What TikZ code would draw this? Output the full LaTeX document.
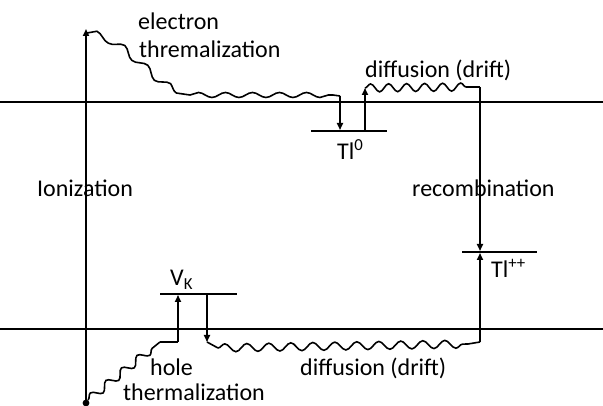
\documentclass[tikz,border=0pt]{standalone}
\usepackage{fontspec}
\setmainfont{Carlito}
\usetikzlibrary{arrows.meta,decorations.pathmorphing}
\begin{document}
\begin{tikzpicture}[x=1pt,y=-1pt,
  band/.style={line width=1.8pt},
  levelline/.style={line width=1.8pt},
  trans/.style={line width=1.6pt,-{Triangle[length=7pt,width=6pt]}},
  plain/.style={line width=1.6pt},
  wavy/.style={line width=1.6pt,decorate,decoration={snake,amplitude=#1}},
  lbl/.style={font=\fontsize{24}{28}\selectfont,inner sep=0pt,anchor=base west}]
\useasboundingbox (0,0) rectangle (603,406);
% band edges
\coordinate (cbL) at (0,102); \coordinate (cbR) at (603,102);
\coordinate (vbL) at (0,329); \coordinate (vbR) at (603,329);
\draw[band] (cbL) -- (cbR);
\draw[band] (vbL) -- (vbR);
% levels
\coordinate (t0L) at (311,131); \coordinate (t0R) at (387,131);
\coordinate (vkL) at (160,294); \coordinate (vkR) at (237,294);
\coordinate (tpL) at (462,252); \coordinate (tpR) at (537,252);
\draw[levelline] (t0L) -- (t0R);
\draw[levelline] (vkL) -- (vkR);
\draw[levelline] (tpL) -- (tpR);
% ionization
\coordinate (ionB) at (86,403); \coordinate (ionT) at (86,29);
\draw[trans,line width=1.9pt] (ionB) -- (ionT);
\fill (ionB) circle (3.4);
% electron thermalization
\coordinate (e0) at (87,33); \coordinate (e1) at (190,95); \coordinate (e2) at (333,95);
\coordinate (e3) at (340,96); \coordinate (e4) at (340,130);
\draw[wavy=3.5pt,decoration={segment length=30pt}] (e0) .. controls (125,40) and (150,93) .. (e1);
\draw[wavy=2.5pt,decoration={segment length=27pt}] (e1) -- (e2);
\draw[plain] (e2) -- (e3);
\draw[trans] (e3) -- (e4);
% electron diffusion
\coordinate (d0) at (365,131); \coordinate (d1) at (365,88);
\coordinate (d2) at (468,87); \coordinate (d3) at (480,87); \coordinate (d4) at (480,251);
\draw[trans] (d0) -- (d1);
\draw[wavy=4pt,decoration={segment length=18pt}] (d1) -- (d2);
\draw[plain] (d2) -- (d3);
\draw[trans] (d3) -- (d4);
% hole thermalization
\coordinate (h0) at (88,400); \coordinate (h1) at (160,342);
\coordinate (h2) at (178,342); \coordinate (h3) at (178,295);
\draw[wavy=4pt,decoration={segment length=20pt}] (h0) -- (h1);
\draw[plain] (h1) -- (h2);
\draw[trans] (h2) -- (h3);
% hole diffusion
\coordinate (g0) at (207,294); \coordinate (g1) at (207,342);
\coordinate (g2) at (218,348); \coordinate (g3) at (468,344);
\coordinate (g4) at (480,342); \coordinate (g5) at (480,253);
\draw[trans] (g0) -- (g1);
\draw[plain] (g1) -- (g2);
\draw[wavy=4pt,decoration={segment length=22pt}] (g2) -- (g3);
\draw[plain] (g3) -- (g4);
\draw[trans] (g4) -- (g5);
% labels
\node[lbl] (lelec) at (138,30) {electron};
\node[lbl] (lthr) at (139,58) {thremalization};
\node[lbl] (ldifT) at (365,78) {diffusion (drift)};
\node[lbl] (ltl0) at (337,160) {Tl\textsuperscript{0}};
\node[lbl] (lion) at (37,197) {Ionization};
\node[lbl] (lrec) at (412,197) {recombination};
\node[lbl] (ltlpp) at (491,278) {Tl\textsuperscript{++}};
\node[lbl] (lvk) at (170,286) {V\textsubscript{K}};
\node[lbl] (lhole) at (150,376) {hole};
\node[lbl] (lhth) at (123,400) {thermalization};
\node[lbl] (ldifB) at (300,376) {diffusion (drift)};
\end{tikzpicture}
\end{document}
